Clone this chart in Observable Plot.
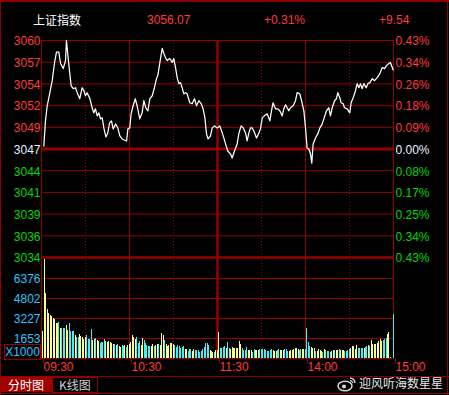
<!DOCTYPE html>
<html><head><meta charset="utf-8">
<script src="https://cdn.jsdelivr.net/npm/d3@7"></script>
<script src="https://cdn.jsdelivr.net/npm/@observablehq/plot@0.6"></script>
<style>
html,body{margin:0;padding:0;background:#000;}
#wrap{position:relative;width:449px;height:395px;background:#000;overflow:hidden;font-family:"Liberation Sans",Arial,sans-serif;}
#wrap svg{position:absolute;left:0;top:0;}
.t{position:absolute;font-size:12px;line-height:12px;white-space:nowrap;}
.cjk{font-family:"Noto Sans CJK SC","Liberation Sans",sans-serif;}
.ln{position:absolute;background:#8c0000;}
</style></head><body>
<div id="wrap"></div>
<script>
// ---------- data ----------
const title = "上证指数";
const lastPrice = "3056.07";
const pctChange = "+0.31%";
const change = "+9.54";
const prevClose = 3046.53;
const priceTicks = [3059.63, 3057.01, 3054.39, 3051.77, 3049.15, 3046.53, 3043.91, 3041.29, 3038.67, 3036.05, 3033.43];
const leftLabels = ["3060","3057","3054","3052","3049","3047","3044","3041","3039","3036","3034"];
const rightLabels = ["0.43%","0.34%","0.26%","0.18%","0.09%","0.00%","0.08%","0.17%","0.25%","0.34%","0.43%"];
const volTicks = [6376, 4802, 3227, 1653];
const volUnit = "X1000";
const timeTicks = [0, 60, 120, 180, 240];
const timeLabels = ["09:30", "10:30", "11:30", "14:00", "15:00"];
const halfHourTicks = [30, 90, 150, 210];

const minutes = [1.6,2.7,3.9,5.7,7.3,8.9,10.2,11.8,13.0,14.8,16.4,17.0,18.0,19.3,20.2,21.6,23.2,24.3,26.1,27.7,28.9,30.0,31.1,33.0,34.5,35.7,36.8,38.0,39.1,40.2,41.4,42.5,43.9,45.2,46.4,47.7,48.9,50.5,52.0,53.4,55.0,58.0,58.9,60.2,61.1,62.5,63.9,65.2,67.0,68.6,69.8,71.1,72.5,73.9,75.5,77.0,78.4,79.3,80.7,82.3,83.4,84.5,85.7,87.5,89.1,90.2,91.4,92.5,93.6,94.8,95.9,97.0,98.2,99.3,101.1,102.7,104.3,105.7,107.3,108.9,110.2,111.4,112.5,113.6,115.2,116.4,118.0,119.8,121.6,
123.9,125.5,127.0,128.9,130.0,131.6,133.4,134.5,136.1,137.5,139.1,140.2,141.4,142.5,143.6,144.8,146.6,148.2,149.3,150.5,152.0,153.9,155.7,156.8,157.9,159.5,161.1,162.5,164.1,165.2,166.4,167.5,168.6,169.8,171.6,173.2,174.3,176.1,177.3,178.9,180.0,181.1,182.3,183.4,184.3,185.2,186.8,188.4,189.8,191.4,192.5,194.3,195.9,197.0,198.2,199.8,201.1,202.0,203.4,204.3,205.7,206.6,208.4,210.2,211.1,212.5,214.1,215.2,216.4,217.5,218.6,219.8,221.4,222.5,223.9,225.5,227.1,228.9,230.7,232.3,233.9,235.2,236.8,237.9,239.8];
const prices = [3046.89,3049.93,3051.75,3053.33,3054.78,3056.97,3058.22,3058.22,3056.85,3056.24,3057.21,3059.64,3057.82,3055.63,3054.18,3053.81,3053.93,3053.33,3052.60,3053.93,3053.57,3052.96,3053.33,3052.60,3051.51,3050.90,3051.38,3050.53,3050.90,3050.17,3050.29,3049.08,3047.99,3048.47,3049.69,3049.93,3048.96,3049.56,3049.08,3048.11,3047.74,3047.50,3048.96,3049.08,3050.78,3051.75,3052.60,3051.75,3050.17,3050.90,3052.36,3051.51,3051.14,3052.60,3052.96,3053.93,3055.03,3055.39,3056.97,3058.67,3058.06,3057.57,3057.21,3057.45,3056.97,3057.45,3056.36,3055.15,3054.42,3054.54,3053.93,3053.20,3053.33,3053.20,3052.11,3051.99,3052.60,3051.75,3052.36,3051.99,3051.38,3050.29,3048.35,3047.74,3048.11,3049.08,3049.32,3049.08,3049.32,
3048.11,3047.14,3046.29,3045.92,3045.44,3046.29,3047.14,3048.35,3049.32,3049.08,3048.47,3047.50,3048.47,3049.08,3049.08,3048.71,3047.86,3048.47,3048.96,3050.29,3050.53,3050.78,3049.93,3051.14,3052.11,3051.38,3051.38,3051.14,3050.53,3051.38,3051.87,3051.51,3051.14,3051.51,3051.75,3052.36,3053.33,3053.20,3052.36,3051.14,3049.08,3046.65,3046.53,3045.92,3044.83,3047.14,3047.86,3048.35,3049.08,3049.56,3050.17,3051.14,3051.51,3050.53,3051.51,3052.36,3052.60,3053.33,3052.72,3052.11,3051.99,3051.51,3051.38,3050.90,3052.11,3052.72,3053.57,3054.42,3053.93,3054.42,3053.81,3054.42,3053.93,3054.42,3054.54,3055.03,3054.78,3055.15,3055.63,3056.36,3056.24,3056.60,3056.85,3056.97,3056.07];

// per-minute volume (x1000) and colour flag (Y = up, C = down)
const volumes = [
2200,7900,5220,3930,3620,3460,3380,3230,3150,2860,
2860,2910,2460,2460,2460,2460,2680,2280,2860,2200,
2200,2200,1890,1760,1760,1970,1810,1700,1600,1710,
1920,1600,1550,2390,1500,1550,1650,1470,1400,1230,
1340,1340,1580,1400,1340,1420,1310,1250,1180,1180,
1080,1150,1000,940,1080,1020,1080,970,1080,1150,
1340,1890,1700,1580,1760,1230,1420,1080,1650,1500,
1230,1100,1020,1020,1020,1150,1020,1100,1200,1150,
1100,2020,1890,1500,1200,1020,1080,1230,1230,1150,
1080,970,1080,1000,890,950,1020,760,760,630,
810,760,630,760,700,710,710,550,630,760,
970,1230,1230,1100,680,630,580,580,710,700,
2120,840,890,950,1020,890,1340,890,810,920,
880,840,840,900,1420,1150,890,710,710,940,
710,710,710,580,760,700,710,710,760,760,
760,760,700,630,630,710,760,700,630,630,
700,760,710,710,710,760,760,630,630,680,
680,760,870,870,760,710,760,760,760,760,
2440,1340,1020,970,900,870,630,630,760,700,
660,550,760,700,630,630,550,600,680,680,
710,710,760,710,710,710,630,630,700,760,
840,1020,1020,810,1100,900,870,870,870,870,
970,1020,1130,1020,1500,1150,1180,1180,1300,1420,
1550,1420,1500,1600,1680,1940,2120,160,0,3510];
const volFlags = (
"YYYYYYYYYY"+"YCYCCCYYCC"+"CCYCCYYYYY"+"CCCCYYCYYC"+"CCCYYYYYYC"+
"YCYYCCYCYY"+"YYYYCCCYYC"+"CCCCYYCYYC"+"YYYCYYYYYY"+"CCCCCCCYYC"+
"CCYYCCCCCC"+"CCCCYYYCYY"+"YCCCCYCCYY"+"YYYYYYCCCC"+"YYYCCYYYCC"+
"CCCCCCCYYY"+"CCYYYCCCYY"+"YYYYYCCYYC"+"CCCYYYCYYY"+"YCYCCCCYYC"+
"YYCYYYCCCC"+"YYYYYCCCCY"+"CCYCYYYYYY"+"YYCCCYYYYC").split("");

// ---------- styles ----------
const GRID = "#960000";
const RED = "#ff3a3a";
const GREEN = "#00d800";
const WHITE = "#e8f2ff";
const VOLLBL = "#2ec4ff";
const YEL = "#ffff8c";
const CYAN = "#48eef6";
const fontFamily = '"Liberation Sans", Arial, sans-serif';

const wrap = document.getElementById("wrap");
const base = {
  width: 449, height: 395, marginLeft: 41, marginRight: 56,
  style: {background: "transparent", fontFamily, fontSize: "12px", overflow: "visible"},
  x: {domain: [0, 240], axis: null}
};
const vRules = () => [
  Plot.ruleX(timeTicks.filter(d => d !== 120), {stroke: GRID, strokeWidth: 1}),
  Plot.ruleX([120], {stroke: GRID, strokeWidth: 2.5}),
  Plot.ruleX(halfHourTicks, {stroke: GRID, strokeWidth: 1, strokeDasharray: "1,2"})
];

const priceData = minutes.map((m, i) => ({m, p: prices[i]}));
const labelColor = i => i < 5 ? RED : i === 5 ? WHITE : GREEN;

const p1 = Plot.plot({
  ...base, marginTop: 40, marginBottom: 138,
  y: {domain: [priceTicks[10], priceTicks[0]], axis: null},
  marks: [
    Plot.ruleY(priceTicks.filter((d, i) => i !== 5 && i !== 10), {stroke: GRID}),
    ...vRules(),
    Plot.ruleY([prevClose], {stroke: GRID, strokeWidth: 3}),
    Plot.ruleY([priceTicks[10]], {stroke: GRID, strokeWidth: 2.5}),
    Plot.line(priceData, {x: "m", y: "p", stroke: "#ffffff", strokeWidth: 1.25}),
    Plot.text(leftLabels, {y: (d, i) => priceTicks[i], text: d => d, fill: (d, i) => labelColor(i),
      frameAnchor: "left", textAnchor: "end", dx: -1, dy: 1, fontSize: 12}),
    Plot.text(rightLabels, {y: (d, i) => priceTicks[i], text: d => d, fill: (d, i) => labelColor(i),
      frameAnchor: "right", textAnchor: "start", dx: 2, dy: 1, fontSize: 12})
  ]
});
wrap.appendChild(p1);

const volData = volumes.map((v, i) => ({i, v, up: volFlags[i] === "Y"}));
const p2 = Plot.plot({
  ...base, marginTop: 257, marginBottom: 37,
  y: {domain: [80, 8030], axis: null, clamp: true},
  marks: [
    Plot.ruleY(volTicks, {stroke: GRID}),
    ...vRules(),
    Plot.rectY(volData, {x1: d => d.i + 0.9, x2: d => d.i + 1.6, y1: 0, y2: "v",
      fill: d => d.up ? YEL : CYAN, shapeRendering: "crispEdges"}),
    Plot.ruleY([0], {stroke: GRID}),
    Plot.text(volTicks, {y: d => d, text: d => String(d), fill: VOLLBL,
      frameAnchor: "left", textAnchor: "end", dx: -1, dy: 1, fontSize: 12}),
    Plot.axisX(timeTicks, {tickSize: 5, stroke: GRID, fill: RED, color: RED,
      tickFormat: d => timeLabels[timeTicks.indexOf(d)], textAnchor: "start",
      dx: 2, tickPadding: -1, fontSize: 12})
  ]
});
wrap.appendChild(p2);

// ---------- HTML chrome ----------
function add(html) { wrap.insertAdjacentHTML("beforeend", html); }
add(`<div class="ln" style="left:0;top:0;width:449px;height:2px"></div>`);
add(`<div class="ln" style="left:0;top:0;width:1px;height:395px"></div>`);
add(`<div class="ln" style="left:447px;top:0;width:1px;height:395px"></div>`);
add(`<div class="ln" style="left:0;top:393px;width:449px;height:1px"></div>`);
add(`<div class="ln" style="left:0;top:376px;width:449px;height:1px"></div>`);
add(`<div class="t cjk" style="left:33px;top:13px;color:#fff;font-size:12px;line-height:14px">${title}</div>`);
add(`<div class="t" style="left:147px;top:14px;color:${RED}">${lastPrice}</div>`);
add(`<div class="t" style="left:264px;top:14px;color:${RED}">${pctChange}</div>`);
add(`<div class="t" style="left:379px;top:14px;color:${RED}">${change}</div>`);
add(`<div class="t" style="left:4px;top:344px;width:35px;height:14px;border:1px solid ${GRID};color:${VOLLBL};line-height:14px;text-align:center">${volUnit}</div>`);
add(`<div class="t cjk" style="left:0;top:377px;width:52px;height:15px;background:#a00000;color:#fff;line-height:15px;text-align:center">分时图</div>`);
add(`<div class="t cjk" style="left:52px;top:377px;width:44px;height:14px;border:1px solid ${GRID};color:#d0d0d0;line-height:14px;text-align:center">K线图</div>`);
add(`<svg style="position:absolute;left:337px;top:376px" width="20" height="16" viewBox="0 0 20 16">
<ellipse cx="8" cy="10" rx="7" ry="4.8" fill="none" stroke="#d8d8d8" stroke-width="1.5"/>
<circle cx="7" cy="10.5" r="2" fill="#d8d8d8"/>
<path d="M13 2 A5 5 0 0 1 18 7" fill="none" stroke="#d8d8d8" stroke-width="1.4"/>
<path d="M13 4.5 A2.5 2.5 0 0 1 15.5 7" fill="none" stroke="#d8d8d8" stroke-width="1.2"/></svg>`);
add(`<div class="t cjk" style="left:359px;top:376px;color:#e6e6e6;font-size:12px;line-height:14px">迎风听海数星星</div>`);
</script>
</body></html>
